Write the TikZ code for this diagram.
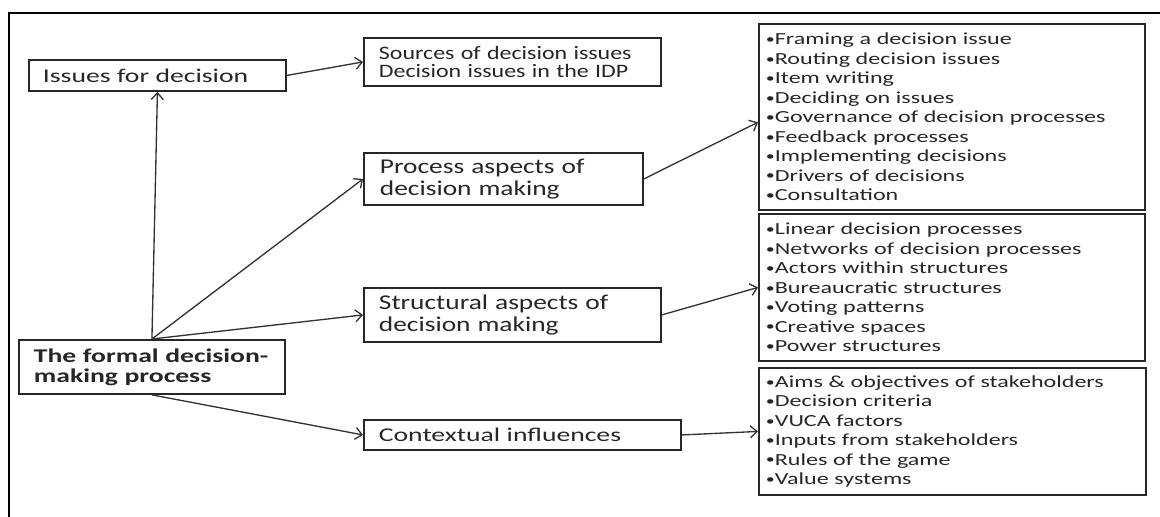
\documentclass[tikz,border=0pt]{standalone}
\usepackage{fontspec}
\setmainfont{Carlito}[FakeStretch=1.42]
\newfontfamily\aspectfont[FakeStretch=1.3]{Carlito}
\newfontfamily\sourcefont[FakeStretch=1.26]{Carlito}
\usetikzlibrary{arrows.meta}
% small raised bullet for the item lists
\newcommand\bul{{\fontsize{9.5pt}{9.5pt}\selectfont\raisebox{0.9pt}{•}}}
\begin{document}
\begin{tikzpicture}[x=0.75pt,y=-0.75pt,
  box/.style={draw=black!85, line width=1.4pt, anchor=north west, align=left, inner ysep=0pt, text=black!85},
  arr/.style={draw=black!80, line width=1pt, -{Straight Barb[length=5pt,width=9pt]}},
  headtext/.style={font=\fontsize{14.6pt}{17pt}\selectfont},
  aspecttext/.style={font=\aspectfont\fontsize{15.8pt}{16pt}\selectfont},
  listbox/.style={box, inner xsep=5.25pt, text width=279pt, font=\fontsize{12.7pt}{14.6pt}\selectfont},
]
\useasboundingbox (0,0) rectangle (1160,517);
% frame
\draw[line width=1.6pt] (9,517) -- (9,13) -- (1160,13);

% left column
\node[box, headtext, inner xsep=10.5pt, text width=171.75pt, minimum height=23.25pt] (issues) at (28,59) {Issues for decision};
\node[box, font=\bfseries\fontsize{14.6pt}{15pt}\selectfont, inner xsep=11.25pt, text width=177pt, minimum height=40.5pt] (root) at (18,339) {The formal decision-\\making process};

% middle column
\node[box, font=\sourcefont\fontsize{14.25pt}{13.5pt}\selectfont, inner xsep=11.25pt, text width=200.25pt, minimum height=36pt] (sources) at (363,37) {Sources of decision issues\\Decision issues in the IDP};
\node[box, aspecttext, inner xsep=12pt, text width=185.25pt, minimum height=39pt] (process) at (363,152) {Process aspects of\\decision making};
\node[box, aspecttext, inner xsep=11.25pt, text width=200.25pt, minimum height=40.5pt] (structural) at (363,287) {Structural aspects of\\decision making};
\node[box, headtext, inner xsep=11.25pt, text width=215.25pt, minimum height=22.5pt] (contextual) at (363,419) {Contextual influences};

% right column
\node[listbox, minimum height=139.5pt] (listA) at (758,23) {\bul Framing a decision issue\\\bul Routing decision issues\\\bul Item writing\\\bul Deciding on issues\\\bul Governance of decision processes\\\bul Feedback processes\\\bul Implementing decisions\\\bul Drivers of decisions\\\bul Consultation};
\node[listbox, minimum height=110.25pt] (listB) at (758,213) {\bul Linear decision processes\\\bul Networks of decision processes\\\bul Actors within structures\\\bul Bureaucratic structures\\\bul Voting patterns\\\bul Creative spaces\\\bul Power structures};
\node[listbox, minimum height=95.25pt, text width=279.75pt] (listC) at (758,367) {\bul Aims \& objectives of stakeholders\\\bul Decision criteria\\\bul VUCA factors\\\bul Inputs from stakeholders\\\bul Rules of the game\\\bul Value systems};

% connectors
\draw[arr] (root.north) -- (issues.south);
\draw[arr] (root.north) -- (process.west);
\draw[arr] (root.north) -- (structural.west);
\draw[arr] (root.south) -- (contextual.west);
\draw[arr] (issues.east) -- (sources.west);
\draw[arr] (process.east) -- ([yshift=-4pt]listA.west);
\draw[arr] (structural.east) -- (listB.west);
\draw[arr] (contextual.east) -- (listC.west);
\end{tikzpicture}
\end{document}
